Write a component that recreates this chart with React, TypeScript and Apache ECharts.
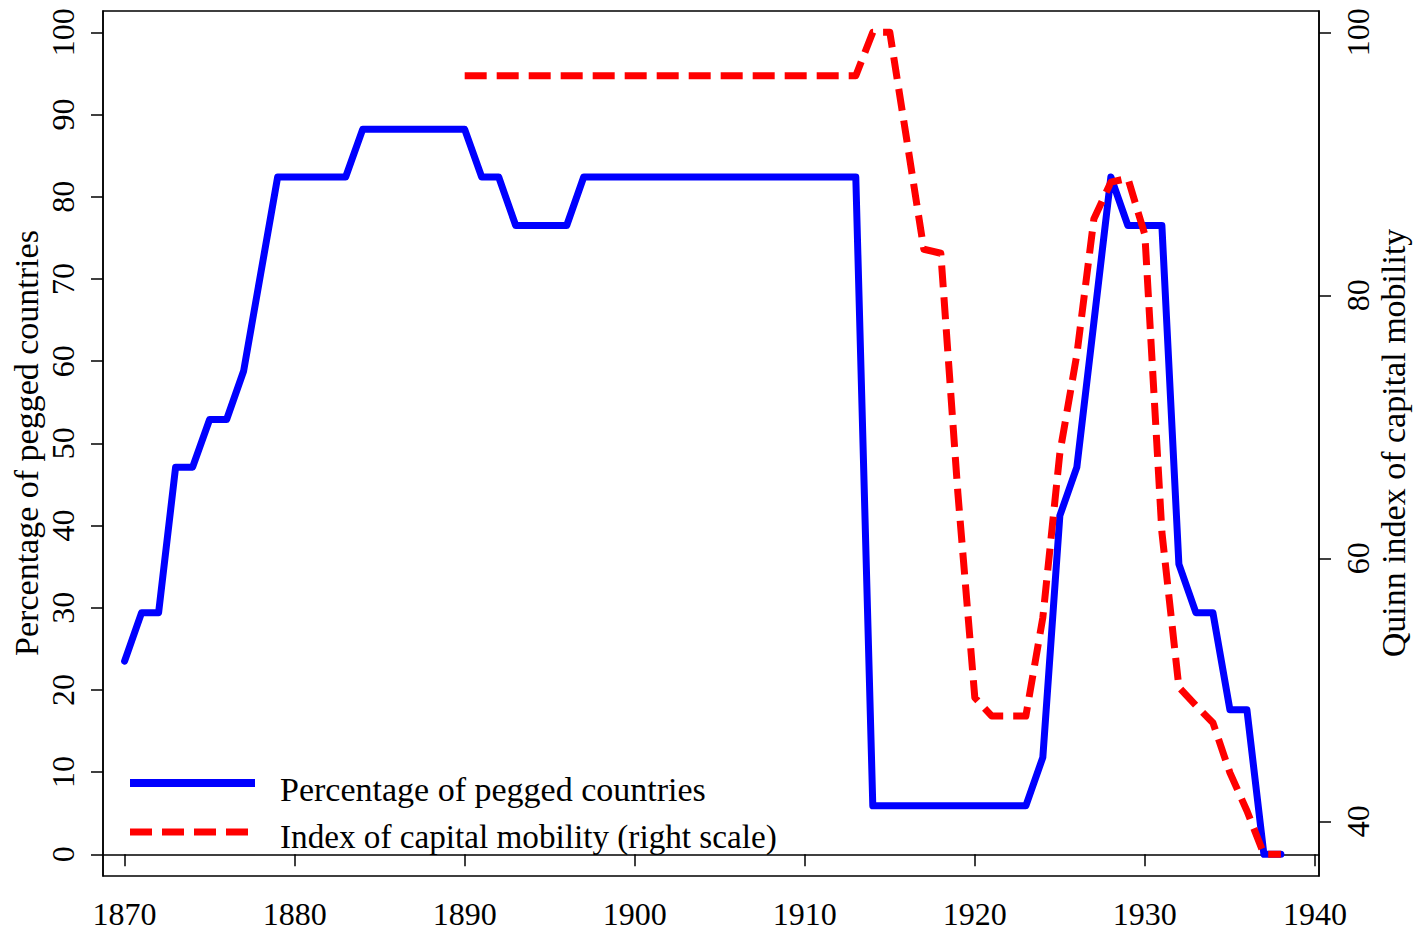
import React, { useEffect, useRef } from "react";
import * as echarts from "echarts";

const years = [
  1870, 1871, 1872, 1873, 1874, 1875, 1876, 1877, 1878, 1879,
  1880, 1881, 1882, 1883, 1884, 1885, 1886, 1887, 1888, 1889,
  1890, 1891, 1892, 1893, 1894, 1895, 1896, 1897, 1898, 1899,
  1900, 1901, 1902, 1903, 1904, 1905, 1906, 1907, 1908, 1909,
  1910, 1911, 1912, 1913, 1914, 1915, 1916, 1917, 1918, 1919,
  1920, 1921, 1922, 1923, 1924, 1925, 1926, 1927, 1928, 1929,
  1930, 1931, 1932, 1933, 1934, 1935, 1936, 1937, 1938,
];

const peggedPct = [
  23.5, 29.4, 29.4, 47.1, 47.1, 52.9, 52.9, 58.8, 70.6, 82.4,
  82.4, 82.4, 82.4, 82.4, 88.2, 88.2, 88.2, 88.2, 88.2, 88.2,
  88.2, 82.4, 82.4, 76.5, 76.5, 76.5, 76.5, 82.4, 82.4, 82.4,
  82.4, 82.4, 82.4, 82.4, 82.4, 82.4, 82.4, 82.4, 82.4, 82.4,
  82.4, 82.4, 82.4, 82.4, 5.9, 5.9, 5.9, 5.9, 5.9, 5.9,
  5.9, 5.9, 5.9, 5.9, 11.8, 41.2, 47.1, 64.7, 82.4, 76.5,
  76.5, 76.5, 35.3, 29.4, 29.4, 17.6, 17.6, 0, 0,
];

const mobilityYears = [
  1890, 1891, 1892, 1893, 1894, 1895, 1896, 1897, 1898, 1899,
  1900, 1901, 1902, 1903, 1904, 1905, 1906, 1907, 1908, 1909,
  1910, 1911, 1912, 1913, 1914, 1915, 1916, 1917, 1918, 1919,
  1920, 1921, 1922, 1923, 1924, 1925, 1926, 1927, 1928, 1929,
  1930, 1931, 1932, 1933, 1934, 1935, 1936, 1937, 1938,
];

const mobilityIndex = [
  96.7, 96.7, 96.7, 96.7, 96.7, 96.7, 96.7, 96.7, 96.7, 96.7,
  96.7, 96.7, 96.7, 96.7, 96.7, 96.7, 96.7, 96.7, 96.7, 96.7,
  96.7, 96.7, 96.7, 96.7, 100, 100, 91.8, 83.5, 83.2, 65.0,
  49.4, 48.0, 48.0, 48.0, 55.5, 68.0, 75.5, 85.8, 88.6, 88.9,
  84.6, 62.0, 50.2, 48.8, 47.5, 43.7, 40.8, 37.5, 37.5,
];

const xTicks = [1870, 1880, 1890, 1900, 1910, 1920, 1930, 1940];
const leftTicks = [0, 10, 20, 30, 40, 50, 60, 70, 80, 90, 100];
const rightTicks = [40, 60, 80, 100];

const seriesNames = [
  "Percentage of pegged countries",
  "Index of capital mobility (right scale)",
];
const leftTitle = "Percentage of pegged countries";
const rightTitle = "Quinn index of capital mobility";

const FONT = "'Liberation Serif', 'DejaVu Serif', serif";
const BLUE = "#0000ff";
const RED = "#ff0000";

export default function App() {
  const ref = useRef<HTMLDivElement>(null);

  useEffect(() => {
    if (!ref.current) return;
    const chart = echarts.init(ref.current, undefined, { renderer: "svg" });

    const axisLineStyle = { color: "#000", width: 1.5 };
    const tickStyle = { show: true, length: 12, lineStyle: { color: "#000", width: 1.5 } };
    const plain = (v: number) => String(v);
    const titleStyle = {
      fontFamily: FONT,
      fontSize: 34,
      fill: "#000",
      align: "center",
      verticalAlign: "middle",
    };

    chart.setOption({
      animation: false,
      backgroundColor: "#fff",
      grid: {
        left: 103,
        top: 11,
        right: 94,
        bottom: 56,
        show: true,
        borderColor: "#000",
        borderWidth: 1.5,
        backgroundColor: "transparent",
        containLabel: false,
        outerBoundsMode: "none",
      },
      graphic: [
        {
          type: "text",
          x: 26,
          y: 443,
          rotation: Math.PI / 2,
          style: { ...titleStyle, text: leftTitle },
        },
        {
          type: "text",
          x: 1393,
          y: 443,
          rotation: Math.PI / 2,
          style: { ...titleStyle, text: rightTitle },
        },
        {
          type: "line",
          shape: { x1: 130, y1: 783, x2: 255, y2: 783 },
          style: { stroke: BLUE, lineWidth: 8, lineCap: "butt" },
        },
        {
          type: "line",
          shape: { x1: 130, y1: 832, x2: 249, y2: 832 },
          style: { stroke: RED, lineWidth: 7, lineDash: [22, 10], lineCap: "butt" },
        },
        {
          type: "text",
          x: 280,
          y: 789,
          style: {
            text: seriesNames[0],
            fontFamily: FONT,
            fontSize: 34,
            fill: "#000",
            align: "left",
            verticalAlign: "middle",
          },
        },
        {
          type: "text",
          x: 280,
          y: 836,
          style: {
            text: seriesNames[1],
            fontFamily: FONT,
            fontSize: 33.2,
            fill: "#000",
            align: "left",
            verticalAlign: "middle",
          },
        },
      ],
      xAxis: {
        type: "value",
        min: 1868.73,
        max: 1940.24,
        splitLine: { show: false },
        axisLine: { show: true, lineStyle: axisLineStyle },
        axisTick: { ...tickStyle, customValues: xTicks },
        axisLabel: {
          customValues: xTicks,
          formatter: plain,
          fontFamily: FONT,
          fontSize: 32,
          color: "#000",
          margin: 22,
        },
      },
      yAxis: [
        {
          type: "value",
          position: "left",
          min: -2.64,
          max: 102.6,
          splitLine: { show: false },
          axisLine: { show: true, lineStyle: axisLineStyle },
          axisTick: { ...tickStyle, customValues: leftTicks },
          axisLabel: {
            customValues: leftTicks,
            formatter: plain,
            rotate: 90,
            fontFamily: FONT,
            fontSize: 32,
            color: "#000",
            margin: 24,
          },
        },
        {
          type: "value",
          position: "right",
          min: 35.84,
          max: 101.62,
          splitLine: { show: false },
          axisLine: { show: true, lineStyle: axisLineStyle },
          axisTick: { ...tickStyle, customValues: rightTicks },
          axisLabel: {
            customValues: rightTicks,
            formatter: plain,
            rotate: 90,
            fontFamily: FONT,
            fontSize: 32,
            color: "#000",
            margin: 23,
          },
        },
      ],
      series: [
        {
          name: seriesNames[0],
          type: "line",
          yAxisIndex: 0,
          symbol: "none",
          data: years.map((y, i) => [y, peggedPct[i]]),
          lineStyle: { color: BLUE, width: 7, cap: "round", join: "round" },
          itemStyle: { color: BLUE },
          z: 2,
        },
        {
          name: seriesNames[1],
          type: "line",
          yAxisIndex: 1,
          symbol: "none",
          data: mobilityYears.map((y, i) => [y, mobilityIndex[i]]),
          lineStyle: { color: RED, width: 7, type: [22, 10], cap: "butt", join: "round" },
          itemStyle: { color: RED },
          z: 3,
        },
      ],
    });

    return () => chart.dispose();
  }, []);

  return (
    <div
      ref={ref}
      style={{ position: "absolute", left: 0, top: 0, width: 1413, height: 932, background: "#fff" }}
    />
  );
}
